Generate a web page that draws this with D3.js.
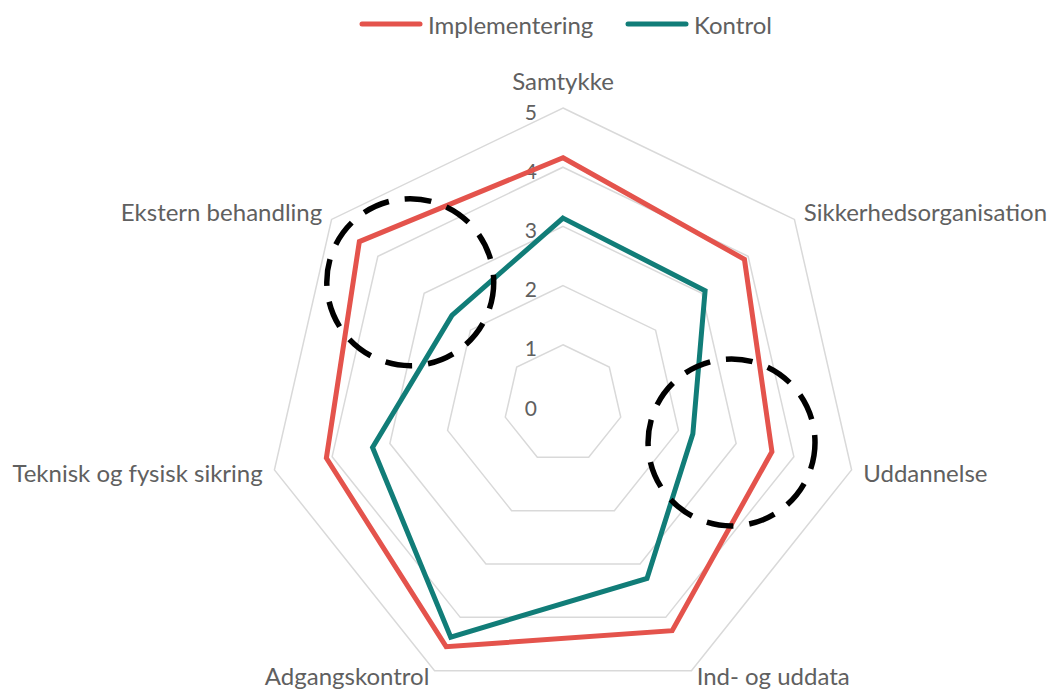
<!DOCTYPE html>
<html>
<head>
<meta charset="utf-8">
<script src="https://cdn.jsdelivr.net/npm/d3@7"></script>
<style>
  body { margin: 0; background: #fff; }
  text { font-family: Lato, "Open Sans", sans-serif; fill: #606060; }
</style>
</head>
<body>
<div id="chart"></div>
<script>
// categories, clockwise from top
const categories = ["Samtykke", "Sikkerhedsorganisation", "Uddannelse", "Ind- og uddata",
    "Adgangskontrol", "Teknisk og fysisk sikring", "Ekstern behandling"];
const implementering = [4.16, 3.92, 3.62, 4.25, 4.55, 4.1, 4.4];
const kontrol = [3.14, 3.07, 2.25, 3.27, 4.37, 3.3, 2.4];
const levels = [0, 1, 2, 3, 4, 5];
const seriesNames = ["Implementering", "Kontrol"];
// highlighted areas: axis + value of circle centre, radius in value units
const highlights = [
    {axis: "Ekstern behandling", value: 3.3, radius: 1.41},
    {axis: "Uddannelse", value: 2.92, radius: 1.41}
];

const width = 1050, height = 692;
const cx = 563, cy = 404, R = 296;
const colors = {"Implementering": "#e4534c", "Kontrol": "#117d78"};

const svg = d3.select("#chart").append("svg")
    .attr("width", width)
    .attr("height", height);

const r = d3.scaleLinear().domain([0, 5]).range([0, R]);
const angle = d3.scalePoint().domain(categories.concat(["_end"])).range([0, 2 * Math.PI]);

const pt = (cat, v) => {
    let a = angle(cat);
    return [cx + r(v) * Math.sin(a), cy - r(v) * Math.cos(a)];
};

const g = svg.append("g");

// grid heptagons
g.selectAll(".grid")
    .data(levels.filter(l => l > 0))
    .enter()
    .append("polygon")
    .attr("class", "grid")
    .attr("points", l => categories.map(c => pt(c, l).join(",")).join(" "))
    .style("fill", "none")
    .style("stroke", "#d9d9d9")
    .style("stroke-width", 1.5);

// level labels
g.selectAll(".lvl")
    .data(levels)
    .enter()
    .append("text")
    .attr("class", "lvl")
    .attr("x", cx - 26)
    .attr("y", l => cy - r(l) + 3)
    .style("text-anchor", "end")
    .style("dominant-baseline", "central")
    .style("font-size", "21px")
    .text(d => d);

// category labels
g.selectAll(".cat")
    .data(categories)
    .enter()
    .append("text")
    .attr("class", "cat")
    .attr("x", c => pt(c, 5)[0] + 12 * Math.sin(angle(c)))
    .attr("y", c => {
        let cs = Math.cos(angle(c));
        let y = pt(c, 5)[1] - 12 * cs;
        if (cs > 0.95) y -= 16;
        if (cs < -0.8) y -= 6;
        return y;
    })
    .style("text-anchor", c => {
        let s = Math.sin(angle(c));
        return s > 0.1 ? "start" : (s < -0.1 ? "end" : "middle");
    })
    .style("dominant-baseline", "central")
    .style("font-size", "24px")
    .text(c => c);

// series
const line = d3.line().curve(d3.curveLinearClosed);
const seriesData = [implementering, kontrol];

g.selectAll(".series")
    .data(seriesData)
    .enter()
    .append("path")
    .attr("class", "series")
    .attr("d", vals => line(categories.map((c, i) => pt(c, vals[i]))))
    .style("fill", "none")
    .style("stroke", (d, i) => colors[seriesNames[i]])
    .style("stroke-width", 5)
    .style("stroke-linejoin", "miter");

// dashed highlight circles
g.selectAll(".hl")
    .data(highlights)
    .enter()
    .append("circle")
    .attr("class", "hl")
    .attr("cx", d => pt(d.axis, d.value)[0])
    .attr("cy", d => pt(d.axis, d.value)[1])
    .attr("r", d => r(d.radius))
    .style("fill", "none")
    .style("stroke", "#000")
    .style("stroke-width", 5.5)
    .style("stroke-dasharray", "27,16");

// legend
const legend = svg.append("g").attr("transform", "translate(362, 24)");
const legendX = d3.scaleOrdinal().domain(seriesNames).range([0, 266]);

const items = legend.selectAll(".leg")
    .data(seriesNames)
    .enter()
    .append("g")
    .attr("class", "leg")
    .attr("transform", d => `translate(${legendX(d)}, 0)`);

items.append("line")
    .attr("x1", 0).attr("x2", 58)
    .attr("y1", 0).attr("y2", 0)
    .style("stroke", d => colors[d])
    .style("stroke-width", 5)
    .style("stroke-linecap", "round");

items.append("text")
    .attr("x", 66)
    .attr("y", 0)
    .style("dominant-baseline", "central")
    .style("font-size", "24px")
    .text(d => d);
</script>
</body>
</html>
